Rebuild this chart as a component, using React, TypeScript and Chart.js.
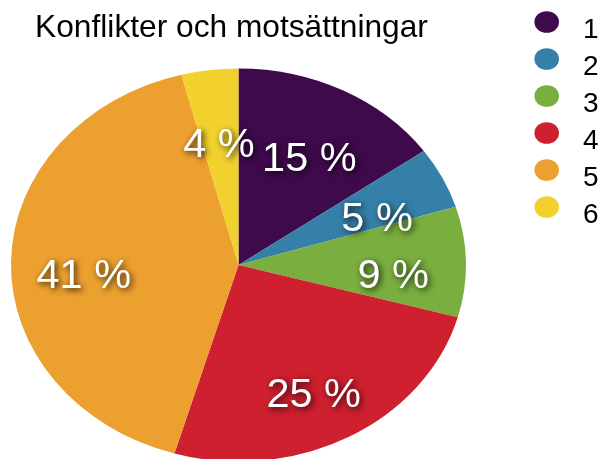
import React, { useEffect, useRef } from "react";
import { Chart, registerables } from "chart.js";

Chart.register(...registerables);

const categories = ["1", "2", "3", "4", "5", "6"];
const values = [15, 5, 9, 25, 41, 4];
const valueLabels = ["15 %", "5 %", "9 %", "25 %", "41 %", "4 %"];
const colors = ["#3E0A4B", "#3580A8", "#7AAE3E", "#CE202E", "#ECA02F", "#F2D12F"];
const title = "Konflikter och motsättningar";

// layout constants
const CX = 238.5;
const CY = 265;
const RX = 227.5;
const RY = 196.5;
const LABEL_R = 0.68;
const LABEL_DY = 13.5;

const ellipsePlugin = {
  id: "ellipse",
  beforeDatasetsDraw(chart: any) {
    const meta = chart.getDatasetMeta(0);
    const a = meta.data[0];
    if (!a) return;
    const R = a.outerRadius;
    const ctx = chart.ctx;
    ctx.save();
    ctx.translate(CX, CY);
    ctx.scale(RX / R, RY / R);
    ctx.translate(-a.x, -a.y);
  },
  afterDatasetsDraw(chart: any) {
    const ctx = chart.ctx;
    ctx.restore();
    const meta = chart.getDatasetMeta(0);
    ctx.save();
    ctx.font = "41.5px 'Liberation Sans', Arial, sans-serif";
    ctx.textAlign = "center";
    ctx.textBaseline = "middle";
    ctx.fillStyle = "#ffffff";
    ctx.shadowColor = "rgba(0,0,0,0.85)";
    ctx.shadowBlur = 6;
    ctx.shadowOffsetX = 2;
    ctx.shadowOffsetY = 2;
    meta.data.forEach((el: any, i: number) => {
      const mid = (el.startAngle + el.endAngle) / 2;
      const x = CX + Math.cos(mid) * LABEL_R * RX;
      const y = CY + Math.sin(mid) * LABEL_R * RY + LABEL_DY;
      ctx.fillText(valueLabels[i], x, y);
    });
    ctx.restore();
  },
  afterDraw(chart: any) {
    const ctx = chart.ctx;
    ctx.save();
    ctx.fillStyle = "#000000";
    ctx.font = "31.7px 'Liberation Sans', Arial, sans-serif";
    ctx.textAlign = "center";
    ctx.textBaseline = "alphabetic";
    ctx.fillText(title, 231.5, 37);
    ctx.font = "28px 'Liberation Sans', Arial, sans-serif";
    ctx.textAlign = "left";
    categories.forEach((c, i) => {
      const y = 22 + 37 * i;
      ctx.fillStyle = colors[i];
      ctx.beginPath();
      ctx.ellipse(546.7, y, 12.3, 10.8, 0, 0, Math.PI * 2);
      ctx.fill();
      ctx.fillStyle = "#000000";
      ctx.fillText(c, 583, y + 16.3);
    });
    ctx.restore();
  },
};

export default function App() {
  const ref = useRef<HTMLCanvasElement>(null);
  useEffect(() => {
    if (!ref.current) return;
    const chart = new Chart(ref.current, {
      type: "pie",
      data: {
        labels: categories,
        datasets: [
          {
            data: values,
            backgroundColor: colors,
            borderWidth: 0,
          },
        ],
      },
      options: {
        responsive: false,
        animation: false,
        devicePixelRatio: 1,
        layout: { padding: 20 },
        plugins: {
          legend: { display: false },
          title: { display: false },
          tooltip: { enabled: false },
        },
      },
      plugins: [ellipsePlugin],
    });
    return () => chart.destroy();
  }, []);
  return (
    <div style={{ position: "fixed", left: 0, top: 0, width: 606, height: 459, background: "#fff" }}>
      <canvas ref={ref} width={606} height={459} style={{ display: "block" }} />
    </div>
  );
}
